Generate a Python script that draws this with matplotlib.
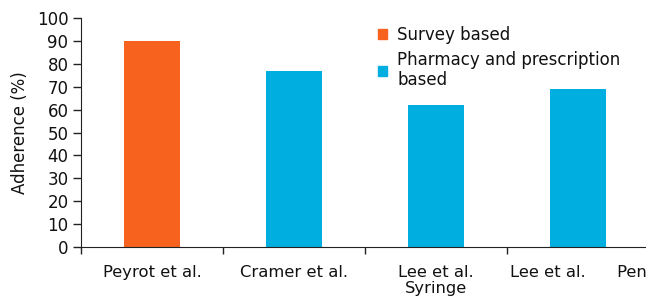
import matplotlib
matplotlib.use("Agg")
import matplotlib.pyplot as plt
from matplotlib.patches import Patch

categories = ["Peyrot et al.", "Cramer et al.", "Lee et al.\nSyringe", "Lee et al.      Pen"]
values = [90, 77, 62, 69]
groups = ["Survey based", "Pharmacy and prescription", "Pharmacy and prescription", "Pharmacy and prescription"]
legend_labels = ["Survey based", "Pharmacy and prescription\nbased"]
colors = {"Survey based": "#F7631F", "Pharmacy and prescription": "#00AEDF"}
yticks = list(range(0, 101, 10))

plt.rcParams['font.family'] = ['DejaVu Sans']
W, H = 646, 297
fig = plt.figure(figsize=(W/100, H/100), dpi=100)
ax = fig.add_axes([81/W, 50/H, 568/W, 229/H])

x = list(range(len(categories)))
ax.bar(x, values, width=0.4, color=[colors[g] for g in groups])
ax.set_xlim(-0.5, len(categories) - 0.5)
ax.set_ylim(0, 100)
ax.set_yticks(yticks)
ax.tick_params(axis='y', labelsize=12, length=6, width=1, color='#222222', pad=3, labelcolor='#111111')
ax.set_xticks([i - 0.5 for i in range(len(categories) + 1)])
ax.set_xticklabels([])
ax.set_xticks(x, minor=True)
ax.set_xticklabels(categories, minor=True, fontsize=11.8, color='#111111', linespacing=1.05)
ax.tick_params(axis='x', which='major', length=5, width=1, color='#222222')
ax.tick_params(axis='x', which='minor', length=0, pad=13)
for s in ['top', 'right']:
    ax.spines[s].set_visible(False)
for s in ['left', 'bottom']:
    ax.spines[s].set_color('#222222')
ax.set_ylabel("Adherence (%)", fontsize=12, labelpad=6, color='#111111')

handles = [Patch(color=colors["Survey based"]), Patch(color=colors["Pharmacy and prescription"])]
fig.legend(handles, legend_labels, loc='upper left', bbox_to_anchor=(378/W, 1 - 26/H),
           frameon=False, fontsize=12, handlelength=0.55, handleheight=0.55,
           handletextpad=0.6, labelspacing=0.4, borderpad=0, borderaxespad=0,
           labelcolor='#111111')

fig.savefig("out.png", dpi=100)
